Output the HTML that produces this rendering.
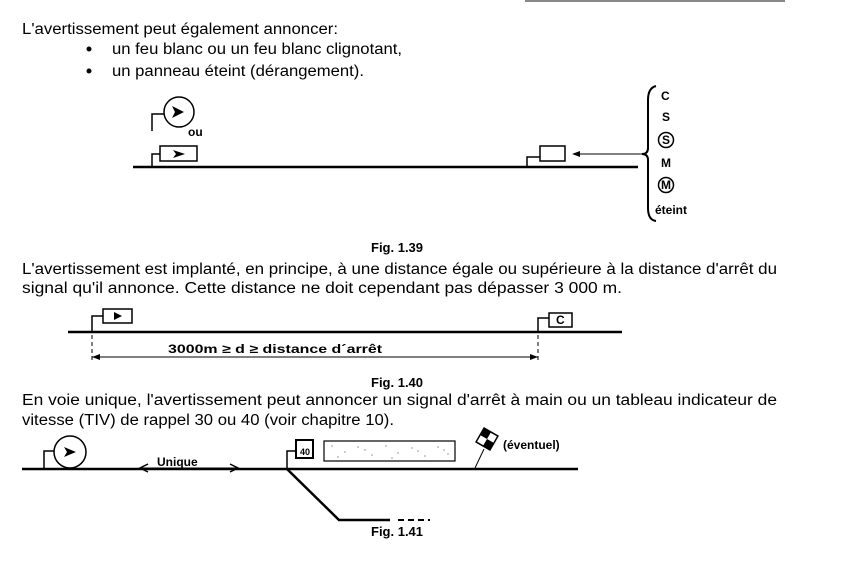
<!DOCTYPE html>
<html><head><meta charset="utf-8"><style>
html,body{margin:0;padding:0;background:#fff;}
svg{display:block}
.t{font-family:"Liberation Sans",Arial,sans-serif;font-size:15.5px;fill:#000}
.b{font-family:"Liberation Sans",Arial,sans-serif;font-size:13px;font-weight:bold;fill:#000}
.d{font-family:"Liberation Sans",Arial,sans-serif;font-size:12px;font-weight:bold;fill:#000}
</style></head><body>
<svg width="841" height="561" viewBox="0 0 841 561" xmlns="http://www.w3.org/2000/svg">
<line x1="525" y1="1" x2="785" y2="1" stroke="#888" stroke-width="2"/>
<text class="t" x="22" y="34" textLength="316" lengthAdjust="spacingAndGlyphs">L'avertissement peut également annoncer:</text>
<circle cx="89" cy="49" r="2.5"/><circle cx="89" cy="71" r="2.5"/>
<text class="t" x="112" y="54" textLength="290" lengthAdjust="spacingAndGlyphs">un feu blanc ou un feu blanc clignotant,</text>
<text class="t" x="112" y="76" textLength="252" lengthAdjust="spacingAndGlyphs">un panneau éteint (dérangement).</text>

<g stroke="#000" fill="none" stroke-width="1.5">
<line x1="133" y1="167" x2="638" y2="167" stroke-width="2.5"/>
<circle cx="179" cy="112" r="15"/>
<polyline points="152,131 152,114 164,114"/>
<polyline points="152,167 152,154 160,154"/>
<rect x="160" y="146" width="37" height="15"/>
<polyline points="527,167 527,157 540,157"/>
<rect x="540" y="146" width="25" height="15"/>
<line x1="575" y1="154" x2="646" y2="154" stroke-width="1"/>
<path d="M656,86 Q648,88 648,100 L648,148 Q648,154 642,154 Q648,154 648,160 L648,208 Q648,220 656,221" stroke-width="2"/>
<circle cx="666" cy="140" r="7.5"/><circle cx="666" cy="185" r="7.5"/>
</g>
<path d="M572,154 L580,151 L580,157Z"/>
<path d="M172,106 L184,112 L172,118 L175,112Z"/>
<path d="M173,150 L185,154 L173,158 L176,154Z"/>
<text class="d" x="188" y="136">ou</text>
<text class="d" x="661" y="100">C</text>
<text class="d" x="662" y="121">S</text>
<text class="d" x="662" y="144" font-size="10">S</text>
<text class="d" x="661" y="167">M</text>
<text class="d" x="661" y="189" font-size="9">M</text>
<text class="d" x="655" y="214">éteint</text>

<text class="b" x="371" y="252">Fig. 1.39</text>
<text class="t" x="22" y="274" textLength="755" lengthAdjust="spacingAndGlyphs">L'avertissement est implanté, en principe, à une distance égale ou supérieure à la distance d'arrêt du</text>
<text class="t" x="22" y="293" textLength="600" lengthAdjust="spacingAndGlyphs">signal qu'il annonce. Cette distance ne doit cependant pas dépasser 3 000 m.</text>

<g stroke="#000" fill="none" stroke-width="1.5">
<line x1="68" y1="332" x2="622" y2="332" stroke-width="2.5"/>
<polyline points="92,333 92,316 103,316"/>
<rect x="103" y="309" width="29" height="14"/>
<polyline points="538,333 538,318 549,318"/>
<rect x="549" y="313" width="23" height="14"/>
<line x1="92" y1="335" x2="92" y2="362" stroke-dasharray="4,3" stroke-width="1"/>
<line x1="538" y1="335" x2="538" y2="362" stroke-dasharray="4,3" stroke-width="1"/>
<line x1="92" y1="357" x2="538" y2="357" stroke-width="1"/>
</g>
<path d="M92,357 L100,354 L100,360Z"/><path d="M538,357 L530,354 L530,360Z"/>
<path d="M114,312 L122,316 L114,320Z"/>
<text class="d" x="556" y="324" font-size="10">C</text>
<text class="d" x="168" y="353" textLength="214" lengthAdjust="spacingAndGlyphs">3000m ≥ d ≥ distance  d´arrêt</text>

<text class="b" x="371" y="387">Fig. 1.40</text>
<text class="t" x="22" y="405" textLength="755" lengthAdjust="spacingAndGlyphs">En voie unique, l'avertissement peut annoncer un signal d'arrêt à main ou un tableau indicateur de</text>
<text class="t" x="22" y="425" textLength="372" lengthAdjust="spacingAndGlyphs">vitesse (TIV) de rappel 30 ou 40 (voir chapitre 10).</text>

<g stroke="#000" fill="none" stroke-width="1.5">
<line x1="22" y1="469" x2="578" y2="469" stroke-width="2.5"/>
<circle cx="70" cy="452" r="16"/>
<polyline points="44,469 44,451 54,451"/>
<line x1="140" y1="468" x2="238" y2="468" stroke-width="1"/>
<polyline points="148,464 140,468 148,472"/>
<polyline points="230,464 238,468 230,472"/>
<polyline points="287,469 287,451 296,451"/>
<rect x="296" y="440" width="17" height="18" stroke-width="2"/>
<rect x="324" y="441" width="131" height="20" stroke-width="1.2"/>
<polyline points="287,469 339,520 390,520" stroke-width="2.5"/>
<line x1="398" y1="520" x2="430" y2="520" stroke-width="2" stroke-dasharray="6,4"/>
<line x1="475" y1="468" x2="484" y2="449" stroke-width="1"/>
<rect x="479" y="431" width="16" height="16" transform="rotate(30 487 439)" fill="#fff"/>
</g>
<path d="M479,431 h8 v8 h-8Z M487,439 h8 v8 h-8Z" transform="rotate(30 487 439)"/>
<path d="M64,447 L76,452 L64,457 L67,452Z"/>
<text x="300" y="455" font-family="Liberation Sans,sans-serif" font-size="9" font-weight="bold">40</text>
<g fill="#555">
<circle cx="332" cy="446" r=".6"/><circle cx="345" cy="452" r=".6"/><circle cx="358" cy="447" r=".6"/><circle cx="372" cy="455" r=".6"/><circle cx="386" cy="446" r=".6"/><circle cx="398" cy="453" r=".6"/><circle cx="412" cy="448" r=".6"/><circle cx="425" cy="456" r=".6"/><circle cx="438" cy="447" r=".6"/><circle cx="448" cy="454" r=".6"/><circle cx="338" cy="457" r=".6"/><circle cx="365" cy="450" r=".6"/><circle cx="392" cy="458" r=".6"/><circle cx="418" cy="451" r=".6"/><circle cx="444" cy="450" r=".6"/>
</g>
<text class="d" x="157" y="466">Unique</text>
<text class="d" x="503" y="449" font-size="10">(éventuel)</text>
<text class="b" x="371" y="536">Fig. 1.41</text>
</svg>
</body></html>
